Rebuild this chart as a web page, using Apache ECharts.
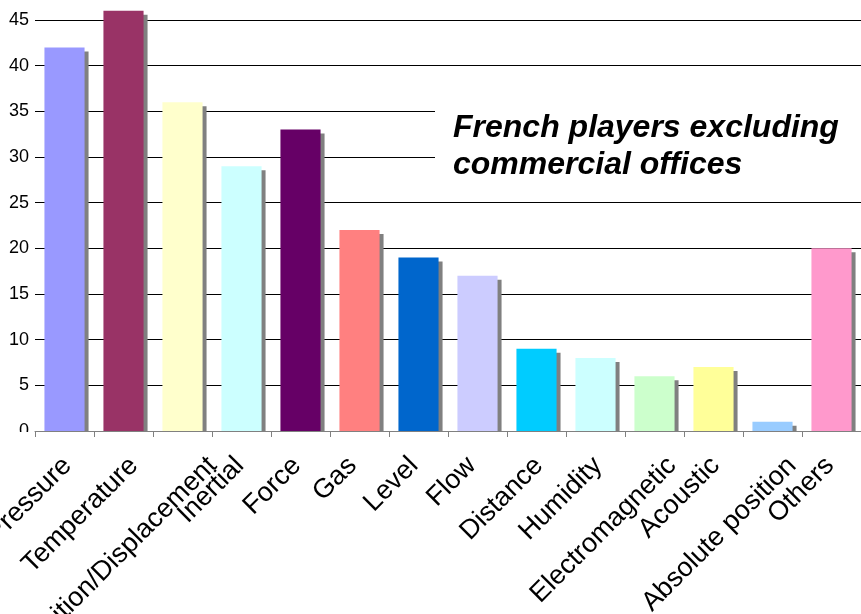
<!DOCTYPE html>
<html>
<head>
<meta charset="utf-8">
<script src="https://cdn.jsdelivr.net/npm/echarts@6/dist/echarts.min.js"></script>
<style>
html,body{margin:0;padding:0;background:#fff;}
#chart{width:861px;height:614px;}
</style>
</head>
<body>
<div id="chart"></div>
<script>
const categories = ["Pressure","Temperature","Position/Displacement","Inertial","Force","Gas","Level","Flow","Distance","Humidity","Electromagnetic","Acoustic","Absolute position","Others"];
const values = [42,46,36,29,33,22,19,17,9,8,6,7,1,20];
const barColors = ["#9999FF","#993366","#FFFFCC","#CCFFFF","#660066","#FF8080","#0066CC","#CCCCFF","#00CCFF","#CCFFFF","#CCFFCC","#FFFF99","#99CCFF","#FF99CC"];
const yTicks = {min:0, max:45, interval:5};
const titleLines = ["French players excluding","commercial offices"];

const chart = echarts.init(document.getElementById('chart'));
const FONT = '"Liberation Sans", Arial, Helvetica, sans-serif';
const LABEL_FONT = '27px ' + FONT;
chart.setOption({
  animation:false,
  backgroundColor:'#fff',
  grid:{left:35,right:0,top:20,bottom:183,containLabel:false,outerBoundsMode:'none'},
  xAxis:{
    type:'category',
    z:5,
    data:categories,
    boundaryGap:true,
    axisLine:{show:true,lineStyle:{color:'#808080',width:1}},
    axisTick:{show:true,interval:0,length:6,lineStyle:{color:'#808080'}},
    axisLabel:{show:false,interval:0},
    splitLine:{show:false}
  },
  yAxis:{
    type:'value',
    min:yTicks.min,max:yTicks.max,interval:yTicks.interval,
    axisLine:{show:false},
    axisTick:{show:false},
    axisLabel:{fontSize:18,color:'#000',margin:6,fontFamily:FONT},
    splitLine:{show:true,lineStyle:{color:'#000',width:1}}
  },
  series:[{
    type:'bar',
    clip:false,
    barWidth:'68%',
    data:values.map((v,i)=>({value:v,itemStyle:{color:barColors[i]}})),
    itemStyle:{shadowColor:'#808080',shadowBlur:0,shadowOffsetX:4,shadowOffsetY:4}
  }]
});

// Category labels, rotated 45deg, placed from the axis scale (Excel-like anchoring)
const mctx = document.createElement('canvas').getContext('2d');
mctx.font = LABEL_FONT;
const axisY = chart.convertToPixel({yAxisIndex:0}, 0);
const labelGraphics = categories.map((c,i)=>{
  const cx = chart.convertToPixel({xAxisIndex:0}, i);
  const L = mctx.measureText(c).width;
  const shift = 0.17 * (L - 47);
  return {type:'text', z:50, x: cx + shift - 17, y: axisY + 21, rotation: Math.PI/4,
    style:{text:c, font:LABEL_FONT, fill:'#000', align:'right', verticalAlign:'top'}};
});

chart.setOption({
  graphic:[
    {type:'rect',left:0,top:432,z:3,shape:{width:861,height:6},style:{fill:'#fff'}},
    {type:'rect',left:435,top:72,z:100,shape:{width:426,height:126},style:{fill:'#fff'}},
    {type:'text',z:101,x:453,y:128,style:{text:titleLines[0],font:'italic bold 32px '+FONT,fill:'#000',verticalAlign:'middle'}},
    {type:'text',z:101,x:453,y:165,style:{text:titleLines[1],font:'italic bold 32px '+FONT,fill:'#000',verticalAlign:'middle'}}
  ].concat(labelGraphics)
});
</script>
</body>
</html>
